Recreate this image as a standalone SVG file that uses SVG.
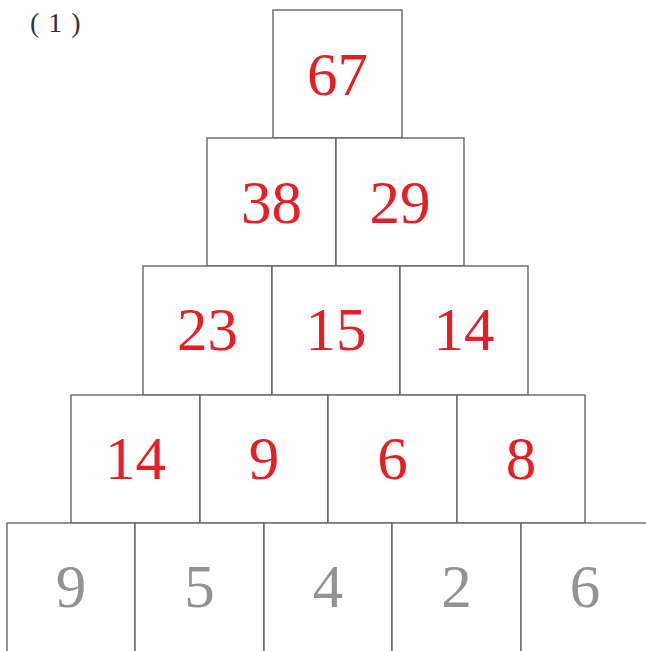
<svg xmlns="http://www.w3.org/2000/svg" width="646" height="651" viewBox="0 0 646 651">
<style>
.box{fill:#fff;stroke:#666;stroke-width:1.4}
.r{fill:#e41f26;font-family:"Liberation Serif","DejaVu Serif",serif;font-size:61px;text-anchor:middle}
.g{fill:#939393;font-family:"Liberation Serif","DejaVu Serif",serif;font-size:61px;text-anchor:middle}
.lbl{fill:#333;font-family:"Liberation Serif","DejaVu Serif",serif;font-size:28px}
</style>
<rect width="646" height="651" fill="#fff"/>
<text class="lbl" x="30" y="32" letter-spacing="9">(1)</text>
<g id="n67"><rect class="box" x="273" y="10" width="129" height="128"/><text class="r" x="337.5" y="95">67</text></g>
<g id="n38"><rect class="box" x="207" y="138" width="129" height="128"/><text class="r" x="271.5" y="223">38</text></g>
<g id="n29"><rect class="box" x="336" y="138" width="128" height="128"/><text class="r" x="400" y="223">29</text></g>
<g id="n23"><rect class="box" x="143" y="266" width="129" height="129"/><text class="r" x="207.5" y="350">23</text></g>
<g id="n15"><rect class="box" x="272" y="266" width="128" height="129"/><text class="r" x="336" y="350">15</text></g>
<g id="n14a"><rect class="box" x="400" y="266" width="128" height="129"/><text class="r" x="464" y="350">14</text></g>
<g id="n14b"><rect class="box" x="71" y="395" width="129" height="128"/><text class="r" x="135.5" y="479">14</text></g>
<g id="n9a"><rect class="box" x="200" y="395" width="128" height="128"/><text class="r" x="264" y="479">9</text></g>
<g id="n6a"><rect class="box" x="328" y="395" width="129" height="128"/><text class="r" x="392.5" y="479">6</text></g>
<g id="n8"><rect class="box" x="457" y="395" width="128" height="128"/><text class="r" x="521" y="479">8</text></g>
<g id="n9b"><rect class="box" x="7" y="523" width="128" height="140"/><text class="g" x="71" y="607">9</text></g>
<g id="n5"><rect class="box" x="135" y="523" width="129" height="140"/><text class="g" x="199.5" y="607">5</text></g>
<g id="n4"><rect class="box" x="264" y="523" width="128" height="140"/><text class="g" x="328" y="607">4</text></g>
<g id="n2"><rect class="box" x="392" y="523" width="129" height="140"/><text class="g" x="456.5" y="607">2</text></g>
<g id="n6b"><rect class="box" x="521" y="523" width="140" height="140"/><text class="g" x="585" y="607">6</text></g>
<g id="connectors"></g>
</svg>
